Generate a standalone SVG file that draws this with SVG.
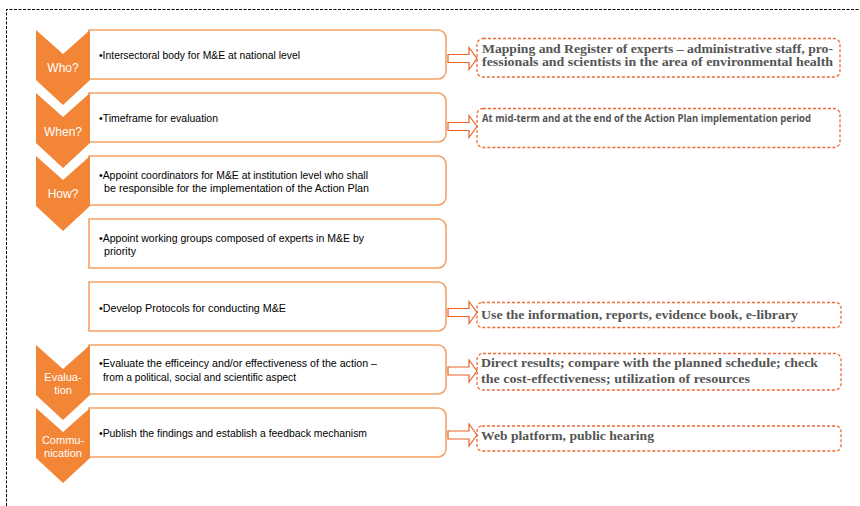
<svg xmlns="http://www.w3.org/2000/svg" width="860" height="506" viewBox="0 0 860 506">
<style>
.frame{fill:none;stroke:#000;stroke-width:1;stroke-dasharray:3 1.5}
.chev{fill:#F28536}
.box{fill:#fff;stroke:#F3A266;stroke-width:1.6}
.lab{font-family:"Liberation Sans",Arial,sans-serif;font-size:12px;fill:#fff;text-anchor:middle}
.lab2{font-family:"Liberation Sans",Arial,sans-serif;font-size:11px;fill:#fff;text-anchor:middle}
.t{font-family:"Liberation Sans Narrow","Liberation Sans",Arial,sans-serif;font-size:10.5px;fill:#000}
.note{fill:#fff;stroke:#EE6A35;stroke-width:1.3;stroke-dasharray:3 2}
.s{font-family:"Liberation Serif","Times New Roman",serif;font-weight:bold;font-size:12px;fill:#555}
.ss{font-family:"Open Sans","Liberation Sans",Arial,sans-serif;font-weight:bold;font-size:10px;fill:#555}
.arr{fill:#fff;stroke:#E8622A;stroke-width:1.2;stroke-linejoin:miter}
</style>
<path class="frame" d="M6.5,506 V9.5 H860"/>

<g id="row-who">
<path class="box" d="M89,30 H438 A8,8 0 0 1 446,38 V71 A8,8 0 0 1 438,79 H89 Z"/>
<polygon class="chev" points="36,30 63,54 90,30 90,80 63,105 36,80"/>
<text class="lab" x="63" y="72">Who?</text>
<text class="t" x="99" y="59" textLength="201" lengthAdjust="spacingAndGlyphs">•Intersectoral body for M&amp;E at national level</text>
</g>

<g id="row-when">
<path class="box" d="M89,93 H438 A8,8 0 0 1 446,101 V134 A8,8 0 0 1 438,142 H89 Z"/>
<polygon class="chev" points="36,93 63,117 90,93 90,143 63,168 36,143"/>
<text class="lab" x="63" y="136">When?</text>
<text class="t" x="99" y="122" textLength="119" lengthAdjust="spacingAndGlyphs">•Timeframe for evaluation</text>
</g>

<g id="row-how">
<path class="box" d="M89,156 H438 A8,8 0 0 1 446,164 V197 A8,8 0 0 1 438,205 H89 Z"/>
<polygon class="chev" points="36,156 63,180 90,156 90,206 63,231 36,206"/>
<text class="lab" x="63" y="198">How?</text>
<text class="t" x="99" y="179" textLength="269" lengthAdjust="spacingAndGlyphs">•Appoint coordinators for M&amp;E at institution level who shall</text>
<text class="t" x="104" y="191.5" textLength="265" lengthAdjust="spacingAndGlyphs">be responsible for the implementation of the Action Plan</text>
</g>

<g id="row-groups">
<path class="box" d="M89,219 H438 A8,8 0 0 1 446,227 V260 A8,8 0 0 1 438,268 H89 Z"/>
<text class="t" x="99" y="242" textLength="265" lengthAdjust="spacingAndGlyphs">•Appoint working groups composed of experts in M&amp;E by</text>
<text class="t" x="104" y="254.5" textLength="32" lengthAdjust="spacingAndGlyphs">priority</text>
</g>

<g id="row-protocols">
<path class="box" d="M89,282 H438 A8,8 0 0 1 446,290 V323 A8,8 0 0 1 438,331 H89 Z"/>
<text class="t" x="99" y="312" textLength="187" lengthAdjust="spacingAndGlyphs">•Develop Protocols for conducting M&amp;E</text>
</g>

<g id="row-evaluation">
<path class="box" d="M89,345 H438 A8,8 0 0 1 446,353 V386 A8,8 0 0 1 438,394 H89 Z"/>
<polygon class="chev" points="36,345 63,369 90,345 90,395 63,420 36,395"/>
<text class="lab2" x="63" y="380.5">Evalua-</text>
<text class="lab2" x="63" y="394">tion</text>
<text class="t" x="99" y="367" textLength="278" lengthAdjust="spacingAndGlyphs">•Evaluate the efficeincy and/or effectiveness of the action –</text>
<text class="t" x="103" y="380.5" textLength="193" lengthAdjust="spacingAndGlyphs">from a political, social and scientific aspect</text>
</g>

<g id="row-communication">
<path class="box" d="M89,408 H438 A8,8 0 0 1 446,416 V449 A8,8 0 0 1 438,457 H89 Z"/>
<polygon class="chev" points="36,408 63,432 90,408 90,458 63,483 36,458"/>
<text class="lab2" x="63" y="444">Commu-</text>
<text class="lab2" x="63" y="456.5">nication</text>
<text class="t" x="99" y="437" textLength="268" lengthAdjust="spacingAndGlyphs">•Publish the findings and establish a feedback mechanism</text>
</g>

<g id="note-experts">
<rect class="note" x="477" y="38.5" width="363" height="38.5" rx="6"/>
<text class="s" x="482" y="52.5" textLength="351" lengthAdjust="spacingAndGlyphs">Mapping and Register of experts – administrative staff, pro-</text>
<text class="s" x="482" y="66" textLength="351" lengthAdjust="spacingAndGlyphs">fessionals and scientists in the area of environmental health</text>
</g>

<g id="note-timeframe">
<rect class="note" x="477" y="108.5" width="363" height="39" rx="6"/>
<text class="ss" x="482" y="122" textLength="329" lengthAdjust="spacingAndGlyphs">At mid-term and at the end of the Action Plan implementation period</text>
</g>

<g id="note-protocols">
<rect class="note" x="477" y="302.5" width="364" height="25" rx="5"/>
<text class="s" x="481" y="319" textLength="317" lengthAdjust="spacingAndGlyphs">Use the information, reports, evidence book, e-library</text>
</g>

<g id="note-evaluation">
<rect class="note" x="477" y="353.5" width="364" height="36.5" rx="6"/>
<text class="s" x="481" y="366.5" textLength="337" lengthAdjust="spacingAndGlyphs">Direct results; compare with the planned schedule; check</text>
<text class="s" x="481" y="383" textLength="269" lengthAdjust="spacingAndGlyphs">the cost-effectiveness; utilization of resources</text>
</g>

<g id="note-communication">
<rect class="note" x="477" y="426" width="364" height="25" rx="5"/>
<text class="s" x="481" y="439.5" textLength="173" lengthAdjust="spacingAndGlyphs">Web platform, public hearing</text>
</g>

<g id="connectors">
<path class="arr" d="M448,54.5 H469 V47.5 L477,58.5 L469,69.5 V62.5 H448 Z"/>
<path class="arr" d="M448,122.5 H469 V115.5 L477,126.5 L469,137.5 V130.5 H448 Z"/>
<path class="arr" d="M448,308.5 H469 V301.5 L477,312.5 L469,323.5 V316.5 H448 Z"/>
<path class="arr" d="M448,367 H469 V360 L477,371 L469,382 V375 H448 Z"/>
<path class="arr" d="M448,431 H469 V424 L477,435 L469,446 V439 H448 Z"/>
</g>
</svg>
